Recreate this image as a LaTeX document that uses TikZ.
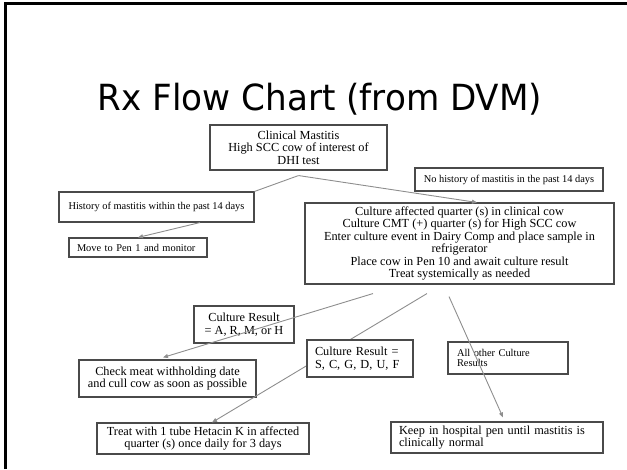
\documentclass[tikz,border=0pt]{standalone}
\usepackage{fontspec}
\setmainfont{Liberation Serif}
\newfontfamily\titlefont{DejaVu Sans}
\usepackage{tikz}
\usetikzlibrary{arrows.meta,calc,positioning}
\definecolor{framegray}{HTML}{4A4A4A}
\definecolor{wiregray}{HTML}{8E8E8E}
\tikzset{
	flow chart/.style={
		x=1pt, y=-1pt,
		box/.style={draw=framegray, line width=1.1pt, inner sep=0pt,
			align=center, text=black,
			font=\fontsize{12.3}{12.4}\selectfont},
		small/.style={font=\fontsize{10.4}{10.6}\selectfont},
		wire/.style={draw=wiregray, line width=0.9pt},
		ar/.style={wire, -{Triangle[length=5pt,width=4pt]}},
		},
	sized/.style 2 args={minimum width=#1, minimum height=#2},
	% left aligned text, #1 = box width, #2 = padding
	flush/.style 2 args={align=left, inner xsep=#2,
		text width={#1-2*#2}},
}

\begin{document}
\begin{tikzpicture}[flow chart]
    \useasboundingbox (0,0) rectangle (627,469);
    \draw[line width=3pt] (5.5,469) -- (5.5,3) -- (627,3);
    \node[anchor=base, font=\titlefont\fontsize{36}{40}\selectfont] (title) at (320,110)
      {\scalebox{0.95}[1]{Rx Flow Chart (from DVM)}};

    \node[box, sized={177pt}{45pt}] (CM) at (298.5,147.5)
      {Clinical Mastitis\\High SCC cow of interest of\\DHI test};
    \node[box, small, sized={188pt}{23pt}] (NoHist) at (509,179.5)
      {No history of mastitis in the past 14 days};
    \node[box, small, sized={195pt}{30pt}] (Hist) at (156.5,207)
      {History of mastitis within the past 14 days};
    \node[box, small, sized={138pt}{19pt}, flush={138pt}{8pt}] (Move) at (138,247.5)
      {Move to Pen 1 and monitor};
    \node[box, sized={309pt}{81pt}] (Cult) at (459.5,243.5)
      {Culture affected quarter (s) in clinical cow\\
       Culture CMT (+) quarter (s) for High SCC cow\\
       Enter culture event in Dairy Comp and place sample in\\
       refrigerator\\
       Place cow in Pen 10 and await culture result\\
       Treat systemically as needed};
    \node[box, sized={100pt}{37pt}] (ARMH) at (244,324.5)
      {Culture Result\\= A, R, M, or H};
    \node[box, sized={177pt}{37pt}] (Check) at (167.5,378.5)
      {Check meat withholding date\\and cull cow as soon as possible};
    \node[box, small, sized={120pt}{32pt}, flush={120pt}{9pt},
      font=\fontsize{10.4}{10}\selectfont] (Other) at (508,358)
      {All other Culture\\Results};
    \node[box, sized={212pt}{31pt}] (Treat) at (203,438.5)
      {Treat with 1 tube Hetacin K in affected\\quarter (s) once daily for 3 days};
    \node[box, sized={212pt}{31pt}, flush={212pt}{8pt}] (Keep) at (497,437.5)
      {Keep in hospital pen until mastitis is\\clinically normal};

    \coordinate (apex) at ([yshift=-5pt]CM.south);
    \draw[wire] (apex) -- (Hist.north east);
    \draw[ar] (apex) -- ([xshift=17.5pt]Cult.north);
    \draw[ar] ([xshift=43.5pt]Hist.south) -- (Move.north);
    \draw[ar] ([xshift=-86.5pt,yshift=-9pt]Cult.south) -- ([xshift=-4.5pt,yshift=2pt]Check.north);
    \draw[ar] ([xshift=-32.5pt,yshift=-9pt]Cult.south) -- ([xshift=9pt]Treat.north);
    \draw[ar] ([xshift=-10.5pt,yshift=-12pt]Cult.south) -- ([xshift=6pt,yshift=4pt]Keep.north);

    % drawn last so that it hides the line behind it
    \node[box, fill=white, sized={106pt}{37pt}, flush={106pt}{8pt}] (SCG) at (360,358.5)
      {Culture Result =\\S, C, G, D, U, F};
\end{tikzpicture}
\end{document}
